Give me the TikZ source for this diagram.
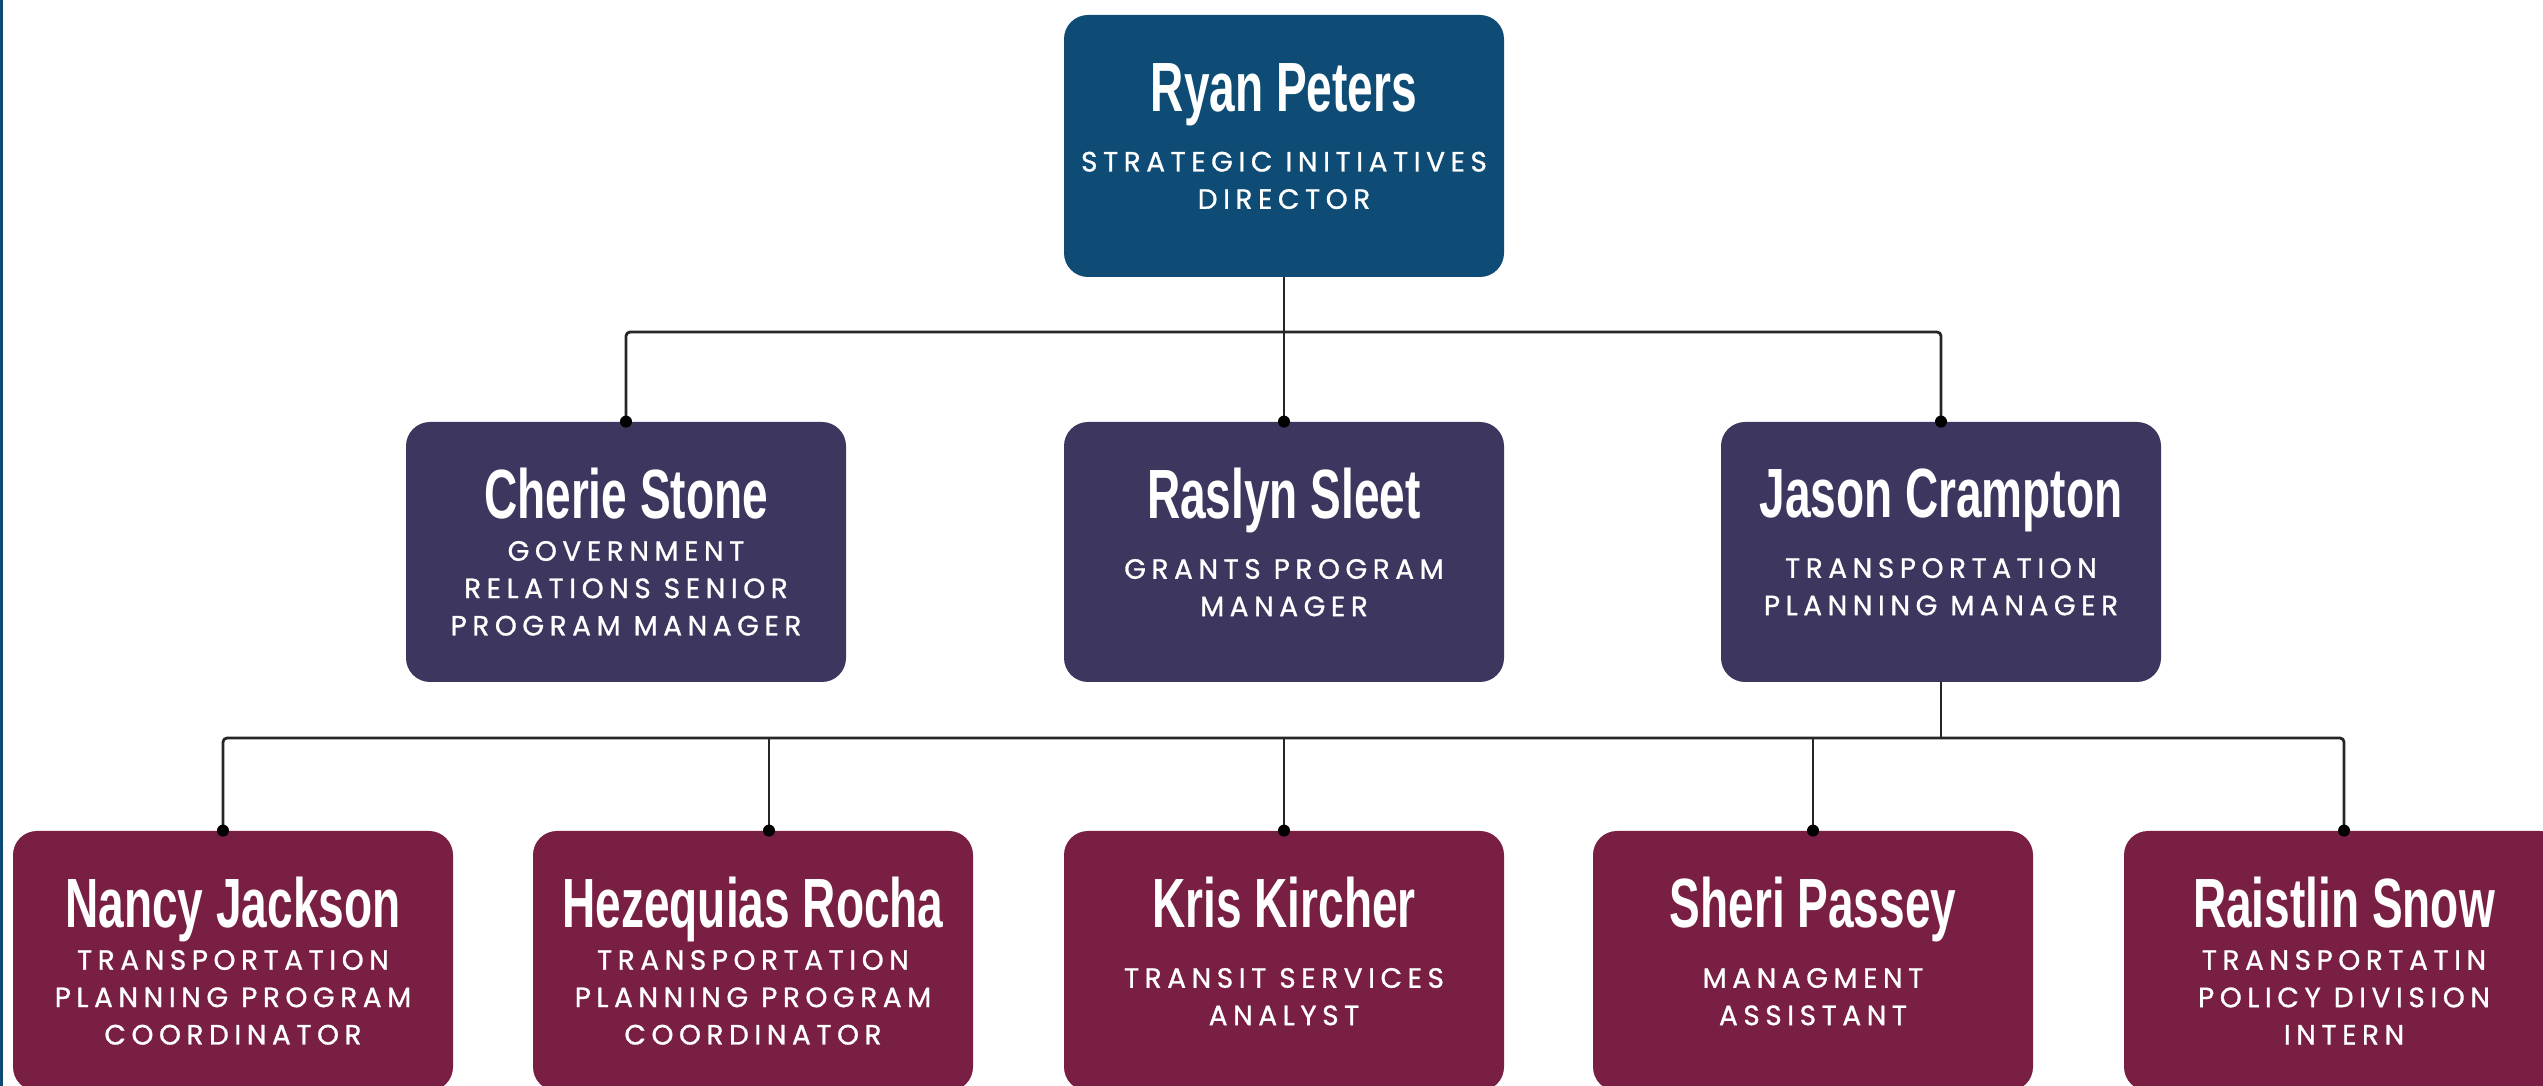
\documentclass[tikz,border=0pt]{standalone}
\usepackage{fontspec}
\usepackage{tikz}
\newfontfamily\namefont{Liberation Sans}[FakeStretch=0.66]
\newfontfamily\rolefont{Poppins}[LetterSpace=20,FakeBold=1]
\newcommand{\pname}[1]{{\namefont\bfseries\fontsize{35}{18.75}\selectfont #1}}
\definecolor{edgeblue}{HTML}{0C4A73}
\definecolor{bossblue}{HTML}{0E4C75}
\definecolor{leadpurple}{HTML}{3D365E}
\definecolor{staffred}{HTML}{7A1F44}

\begin{document}
\begin{tikzpicture}[line join=round,
  box/.style={rounded corners=12bp, minimum width=220bp, minimum height=130bp,
    inner sep=0pt, text=white, align=center,
    font=\rolefont\fontsize{14}{18.75}\selectfont},
  boss/.style={box, fill=bossblue, minimum height=131bp},
  lead/.style={box, fill=leadpurple},
  staff/.style={box, fill=staffred},
  twoline/.style={text depth=9.75bp},
  link/.style={black!85, line width=1.4bp, rounded corners=2bp},
]
%%
\useasboundingbox (0,0) rectangle (1271.5bp,543bp);
\clip (0,0) rectangle (1271.5bp,543bp);
\fill [white] (0,0) rectangle (1271.5bp,543bp);
\fill [edgeblue] (0,0) rectangle (1.6bp,543bp);
%%
\node (node_ryan) at (642bp,470bp) [boss,twoline] {\pname{Ryan Peters}\\[11.25bp]STRATEGIC INITIATIVES\\DIRECTOR};
  \node (node_cherie) at (313bp,267bp) [lead] {\pname{Cherie Stone}\\[2.25bp]GOVERNMENT\\RELATIONS SENIOR\\PROGRAM MANAGER};
  \node (node_raslyn) at (642bp,267bp) [lead,twoline] {\pname{Raslyn Sleet}\\[11.25bp]GRANTS PROGRAM\\MANAGER};
  \node (node_jason) at (970.5bp,267bp) [lead,twoline] {\pname{Jason Crampton}\\[11.25bp]TRANSPORTATION\\PLANNING MANAGER};
  \node (node_nancy) at (116.5bp,62.5bp) [staff] {\pname{Nancy Jackson}\\[2.25bp]TRANSPORTATION\\PLANNING PROGRAM\\COORDINATOR};
  \node (node_hezequias) at (376.5bp,62.5bp) [staff] {\pname{Hezequias Rocha}\\[2.25bp]TRANSPORTATION\\PLANNING PROGRAM\\COORDINATOR};
  \node (node_kris) at (642bp,62.5bp) [staff,twoline] {\pname{Kris Kircher}\\[11.25bp]TRANSIT SERVICES\\ANALYST};
  \node (node_sheri) at (906.5bp,62.5bp) [staff,twoline] {\pname{Sheri Passey}\\[11.25bp]MANAGMENT\\ASSISTANT};
  \node (node_raistlin) at (1172bp,62.5bp) [staff] {\pname{Raistlin Snow}\\[2.25bp]TRANSPORTATIN\\POLICY DIVISION\\INTERN};
  \coordinate (bus_top) at (642bp,377bp);
  \coordinate (bus_low) at (970.5bp,174bp);
  \coordinate (drop_nancy) at ([xshift=-5bp]node_nancy.north);
  \coordinate (drop_hezequias) at ([xshift=8bp]node_hezequias.north);
%
  \draw [link] (node_ryan) -- (node_raslyn);
  \draw [link] (node_cherie.north) |- (bus_top) -| (node_jason.north);
  \draw [link] (node_jason) -- (bus_low);
  \draw [link] (drop_nancy) |- (bus_low) -| (node_raistlin.north);
  \draw [link] (drop_hezequias) -- (drop_hezequias |- bus_low);
  \draw [link] (node_kris.north) -- (node_kris.north |- bus_low);
  \draw [link] (node_sheri.north) -- (node_sheri.north |- bus_low);
  \foreach \n in {node_cherie.north,node_raslyn.north,node_jason.north,drop_nancy,drop_hezequias,node_kris.north,node_sheri.north,node_raistlin.north}
    \fill (\n) circle (3bp);
%
\end{tikzpicture}
\end{document}
